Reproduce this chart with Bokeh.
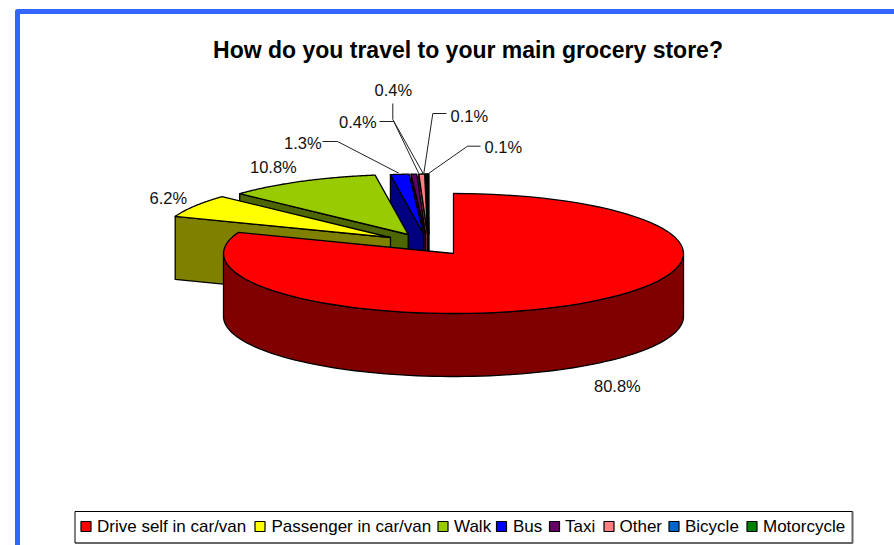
import numpy as np
from bokeh.embed import file_html
from bokeh.models import Range1d
from bokeh.plotting import figure
from bokeh.resources import INLINE
from bokeh.core.properties import value

# Survey answers, in pie order
categories = ["Drive self in car/van", "Passenger in car/van", "Walk", "Bus", "Taxi",
              "Other", "Bicycle", "Motorcycle"]
shares = [80.8, 6.2, 10.8, 1.3, 0.4, 0.4, 0.1, 0.1]
share_labels = ["80.8%", "6.2%", "10.8%", "1.3%", "0.4%", "0.4%", "0.1%", "0.1%"]
top_colors = ["#FF0000", "#FFFF00", "#99CC00", "#0000FF", "#660066", "#FF8080", "#0066CC", "#008000"]
side_colors = ["#800000", "#808000", "#4D6600", "#000080", "#330033", "#804040", "#003366", "#004000"]

title_text = "How do you travel to your main grocery store?"

# Pie projection, in page pixels
CX, CY, RX, RY, DEPTH = 453.0, 253.0, 230.0, 60.0, 63.0
# How far each slice is pulled out of the pie
pull_x = [0, -63, -45.3, -30, -28, -26, -25, -24.5]
pull_y = [0, -16, -19, -19.5, -19.5, -19.5, -19.5, -19.5]

# Data label anchors (left edge, vertical middle) and their leader lines
label_x = [593.5, 149, 249.5, 283.5, 338.5, 374, 450, 484]
label_y = [385, 197, 166, 142, 121, 89, 115, 146]
leader_x = [None, None, None, [322, 337, 398.3], [379, 393.3, 418.3], [392.3, 392.3, 422.7],
            [446, 432.3, 423.3], [480, 467, 428]]
leader_y = [None, None, None, [141, 141, 172.7], [121, 121, 173], [103, 119, 173],
            [113, 113, 173], [145.7, 145.7, 173]]

# Legend layout
legend_box = (74.5, 511, 852, 542.5)
legend_swatch_x = [80.5, 254.5, 437.5, 496, 549, 603.5, 668.5, 746.5]
legend_text_x = [96.5, 271, 453.5, 512.5, 564.5, 619, 684.5, 762.5]
LEGEND_Y = 526

p = figure(width=894, height=545, x_range=Range1d(0, 894), y_range=Range1d(545, 0),
           output_backend="svg", toolbar_location=None, min_border=0,
           outline_line_color=None, background_fill_color="white")
p.axis.visible = False
p.grid.visible = False

# Blue page frame
p.line([17, 17, 900], [550, 11, 11], line_color="#3366FF", line_width=5, line_join="round")

fractions = np.array(shares) / sum(shares)
edges = np.concatenate([[0], np.cumsum(fractions)]) * 2 * np.pi


def rim(a0, a1, ox, oy, n=90):
    t = np.linspace(a0, a1, n)
    return ox + RX * np.sin(t), oy - RY * np.cos(t)


OUTLINE = dict(line_color="black", line_width=1.3, line_join="round")

# Painter's order: the small slices at the back come first, the big red slice last
for i in range(len(shares) - 1, -1, -1):
    ox, oy = CX + pull_x[i], CY + pull_y[i]
    a0, a1 = edges[i], edges[i + 1]
    rx, ry = rim(a0, a1, ox, oy)
    if i > 0:
        # radial wall on the leading edge of the slice
        p.patch([rx[0], ox, ox, rx[0]], [ry[0], oy, oy + DEPTH, ry[0] + DEPTH],
                fill_color=side_colors[i], **OUTLINE)
    else:
        # outer wall along the front half of the rim
        wx, wy = rim(np.pi / 2, 3 * np.pi / 2, ox, oy)
        p.patch(np.concatenate([wx, wx[::-1]]), np.concatenate([wy, wy[::-1] + DEPTH]),
                fill_color=side_colors[i], **OUTLINE)
    p.patch(np.concatenate([[ox], rx]), np.concatenate([[oy], ry]),
            fill_color=top_colors[i], **OUTLINE)

# Leader lines
for lx, ly in zip(leader_x, leader_y):
    if lx is not None:
        p.line(lx, ly, line_color="#222222", line_width=1)

FONT = value("Liberation Sans")
p.text(label_x, label_y, text=share_labels, text_font=FONT, text_font_size="16.5px",
       text_color="#111111", text_baseline="middle", text_align="left")

p.text([467.5], [49], text=[title_text], text_font=FONT, text_font_size="23px",
       text_font_style="bold", text_color="black", text_baseline="middle", text_align="center")

# Legend: a grey shadow on the lower and right edges, then the box
p.line([legend_box[0], legend_box[2], legend_box[2]], [legend_box[3], legend_box[3], legend_box[1]],
       line_color="#666666", line_width=2)
p.line([legend_box[0], legend_box[0], legend_box[2]], [legend_box[3], legend_box[1], legend_box[1]],
       line_color="black", line_width=1)
swatch_left = np.array(legend_swatch_x, dtype=float)
p.quad(left=swatch_left, right=swatch_left + 10, top=LEGEND_Y - 5, bottom=LEGEND_Y + 5,
       fill_color=top_colors, line_color="black", line_width=1.2)
p.text(legend_text_x, [LEGEND_Y] * len(categories), text=categories, text_font=FONT,
       text_font_size="17px", text_color="black", text_baseline="middle", text_align="left")

open("out.html", "w").write(file_html(p, INLINE))
